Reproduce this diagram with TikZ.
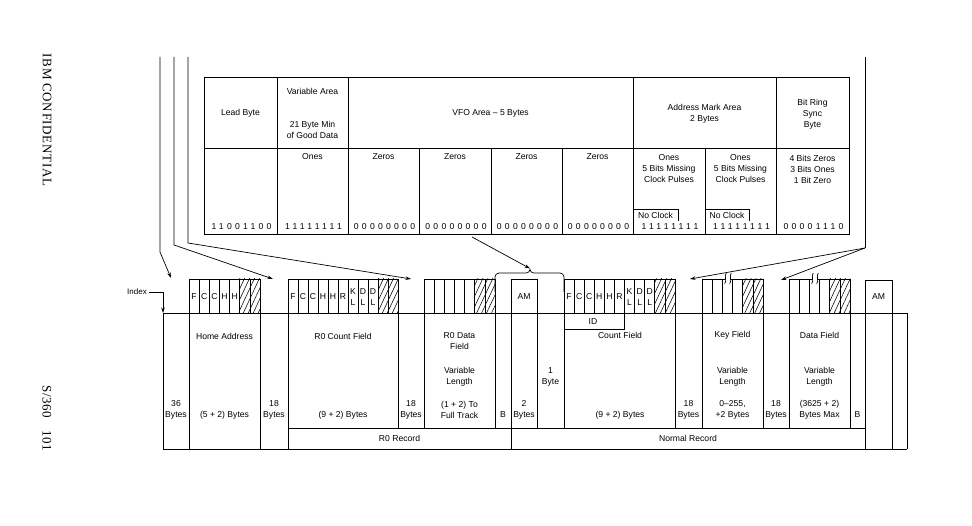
\documentclass[tikz,border=0pt]{standalone}
\usepackage{fontspec}
\setmainfont{Liberation Sans}
\newfontfamily\sidefont[LetterSpace=5]{Liberation Serif}
\newfontfamily\bitfont[LetterSpace=38]{Liberation Sans}
\usetikzlibrary{arrows.meta,patterns.meta}
\begin{document}
\begin{tikzpicture}[x=1pt,y=-1pt,line width=0.95pt,
  lbl/.style={font=\fontsize{8.6}{11}\selectfont,align=center,inner sep=0pt},
  sml/.style={font=\fontsize{8}{9}\selectfont,align=center,inner sep=0pt},
  bits/.style={font=\bitfont\fontsize{8.6}{10}\selectfont,inner sep=0pt},
  side/.style={font=\sidefont\fontsize{13}{14}\selectfont,rotate=-90,inner sep=0pt},
  arr/.style={-{Stealth[length=5.5pt,width=3.5pt]},line width=0.7pt},
  hatch/.style={pattern={Lines[angle=65,distance=4.5pt,line width=0.55pt]}},
  conn/.style={line width=0.7pt}]
\useasboundingbox (0,0) rectangle (972,526);

% ---------- margin texts ----------
\node[side] (conf) at (47,120) {IBM CONFIDENTIAL};
\node[side] (s360) at (47,402) {S/360};
\node[side] (pg) at (47,441) {101};

% ---------- top table ----------
\draw (204,77) rectangle (849,234);
\draw (204,148) -- (849,148);
\foreach \x in {277,348,633,776} \draw (\x,77) -- (\x,234);
\foreach \x in {419,491,562,705} \draw (\x,148) -- (\x,234);

\node[lbl] (lead) at (240.5,113) {Lead Byte};
\node[lbl] (var1) at (312.5,91) {Variable Area};
\node[lbl] (var2) at (312.5,130) {21 Byte Min\\of Good Data};
\node[lbl] (vfo) at (490.5,113) {VFO Area -- 5 Bytes};
\node[lbl] (ama) at (704.5,114) {Address Mark Area\\2 Bytes};
\node[lbl] (ring) at (812.5,114.5) {Bit Ring\\Sync\\Byte};

\node[lbl] (ones1) at (312.5,157) {Ones};
\foreach \c/\n in {383.5/1,455/2,526.5/3,597.5/4} \node[lbl] (zeros\n) at (\c,157) {Zeros};
\node[lbl] (ones2) at (669,169) {Ones\\5 Bits Missing\\Clock Pulses};
\node[lbl] (ones3) at (740.5,169) {Ones\\5 Bits Missing\\Clock Pulses};
\node[lbl] (sync) at (812.5,169) {4 Bits Zeros\\3 Bits Ones\\1 Bit Zero};

\draw[conn] (633,209) -- (678,209) -- (678,221);
\draw[conn] (705,209) -- (749,209) -- (749,221);
\node[lbl] (nc1) at (655.5,215.5) {No Clock};
\node[lbl] (nc2) at (727,215.5) {No Clock};

\foreach \c/\b/\n in {241.5/11001100/a,313.5/11111111/b,384.5/00000000/c,456/00000000/d,527.5/00000000/e,598.5/00000000/f,670/11111111/g,741.5/11111111/h,813.5/00001110/i}
  \node[bits] (bit\n) at (\c,226.5) {\b};

% ---------- connectors from top ----------
\coordinate (la) at (160,57); \coordinate (lab) at (160,252); \coordinate (lae) at (171,278);
\coordinate (lb) at (174,57); \coordinate (lbb) at (174,245); \coordinate (lbe) at (273,279);
\coordinate (lc) at (188,57); \coordinate (lcb) at (188,243); \coordinate (lce) at (411,279);
\coordinate (ra) at (865,57); \coordinate (rab) at (865,248);
\coordinate (rae1) at (690,279); \coordinate (rae2) at (781,280);
\coordinate (ms) at (472,237); \coordinate (me) at (530,268.5);
\draw[arr] (la) -- (lab) -- (lae);
\draw[arr] (lb) -- (lbb) -- (lbe);
\draw[arr] (lc) -- (lcb) -- (lce);
\draw[conn] (ra) -- (rab);
\draw[arr] (rab) -- (rae1);
\draw[arr] (rab) -- (rae2);
\draw[arr] (ms) -- (me);

% ---------- index ----------
\node[sml] (index) at (137,292) {Index};
\coordinate (ixc) at (163,292); \coordinate (ixe) at (163,313);
\draw[arr] (index.east) ++(2,0) -- (ixc) -- (ixe);

% ---------- bottom track ----------
\draw (163,313) -- (907,313);
\draw (163,449) -- (907,449);
\draw (288,428) -- (865,428);
\foreach \x in {163,907} \draw (\x,313) -- (\x,449);
\foreach \x in {189,260,288,511} \draw (\x,279) -- (\x,449);
\foreach \x in {865,892} \draw (\x,280) -- (\x,449);
\foreach \x in {398,424,495,537,564,675,702,763,789,850} \draw (\x,279) -- (\x,428);

% small field boxes (tops)
\draw (189,279) -- (260,279);
\draw (288,279) -- (398,279);
\draw (424,279) -- (495,279);
\draw (511,279) -- (537,279);
\draw (564,279) -- (675,279);
\draw (865,280) -- (892,280);
\draw (702,279) -- (725,279); \draw (731,279) -- (763,279);
\draw (789,279) -- (812,279); \draw (818,279) -- (850,279);

% hatched cells
\path[hatch] (239.3,279) rectangle (260,313);
\path[hatch] (378,279) rectangle (398,313);
\path[hatch] (474.3,279) rectangle (495,313);
\path[hatch] (654.8,279) rectangle (675,313);
\path[hatch] (742.7,279) rectangle (763,313);
\path[hatch] (829.7,279) rectangle (850,313);

% cell dividers
\foreach \i in {1,...,6} \draw[conn] ({189+10.143*\i},279) -- ++(0,34);
\foreach \i in {1,...,10} \draw[conn] ({288+10*\i},279) -- ++(0,34);
\foreach \i in {1,...,6} \draw[conn] ({424+10.143*\i},279) -- ++(0,34);
\foreach \i in {1,...,10} \draw[conn] ({564+10.09*\i},279) -- ++(0,34);
\foreach \i in {1,...,5} \draw[conn] ({702+10.17*\i},279) -- ++(0,34);
\foreach \i in {1,...,5} \draw[conn] ({789+10.17*\i},279) -- ++(0,34);

% wavy breaks
\foreach \x in {725.5,730.5,812.5,817.5}
  \draw[conn] (\x+0.8,273) .. controls (\x-1.8,276) and (\x+1.8,280) .. (\x-0.8,284);

% ID box
\draw[conn] (564,329) -- (624.5,329) -- (624.5,313);

% AM bracket
\draw[conn] (495,292) -- (495,277) .. controls (495,274.8) and (496.8,273) .. (499,273)
  -- (526,273) .. controls (528.5,273) and (529.5,271.5) .. (530,269.5)
  .. controls (530.5,271.5) and (531.5,273) .. (534,273)
  -- (560,273) .. controls (562.2,273) and (564,274.8) .. (564,277) -- (564,292);

% cell letters
\foreach \i/\t in {0/F,1/C,2/C,3/H,4/H} \node[lbl] (hac\i) at ({189+10.143*\i+5.07},297) {\t};
\foreach \i/\t in {0/F,1/C,2/C,3/H,4/H,5/R} \node[lbl] (r0c\i) at ({288+10*\i+5},297) {\t};
\foreach \i/\t in {6/K,7/D,8/D} \node[lbl] (r0k\i) at ({288+10*\i+5},291.5) {\t};
\foreach \i in {6,7,8} \node[lbl] (r0l\i) at ({288+10*\i+5},302.5) {L};
\foreach \i/\t in {0/F,1/C,2/C,3/H,4/H,5/R} \node[lbl] (cc\i) at ({564+10.09*\i+5.05},297) {\t};
\foreach \i/\t in {6/K,7/D,8/D} \node[lbl] (ck\i) at ({564+10.09*\i+5.05},291.5) {\t};
\foreach \i in {6,7,8} \node[lbl] (cl\i) at ({564+10.09*\i+5.05},302.5) {L};
\node[lbl] (am1) at (524,296.5) {AM};
\node[lbl] (am2) at (878.5,296.5) {AM};
\node[lbl] (idl) at (593,321.5) {ID};

% field labels
\node[lbl] (b36) at (176,409.5) {36\\Bytes};
\node[lbl] (home) at (224.5,336) {Home Address};
\node[lbl] (ha52) at (224.5,415) {(5 + 2) Bytes};
\node[lbl] (b18a) at (274,409.5) {18\\Bytes};
\node[lbl] (r0cnt) at (343,336) {R0 Count Field};
\node[lbl] (r092) at (343,415) {(9 + 2) Bytes};
\node[lbl] (b18b) at (411,409.5) {18\\Bytes};
\node[lbl] (r0dat) at (459.5,341.5) {R0 Data\\Field};
\node[lbl] (r0var) at (459.5,376.5) {Variable\\Length};
\node[lbl] (r0len) at (459.5,409.5) {(1 + 2) To\\Full Track};
\node[lbl] (bb1) at (503,415) {B};
\node[lbl] (by2) at (524,409.5) {2\\Bytes};
\node[lbl] (by1) at (550.5,376.5) {1\\Byte};
\node[lbl] (cntf) at (620,335.5) {Count Field};
\node[lbl] (c92) at (620,415) {(9 + 2) Bytes};
\node[lbl] (b18c) at (688.5,409.5) {18\\Bytes};
\node[lbl] (keyf) at (732.5,335.5) {Key Field};
\node[lbl] (keyv) at (732.5,376.5) {Variable\\Length};
\node[lbl] (keyl) at (732.5,409.5) {0--255,\\+2 Bytes};
\node[lbl] (b18d) at (776,409.5) {18\\Bytes};
\node[lbl] (datf) at (819.5,335.5) {Data Field};
\node[lbl] (datv) at (819.5,376.5) {Variable\\Length};
\node[lbl] (datl) at (819.5,409.5) {(3625 + 2)\\Bytes Max};
\node[lbl] (bb2) at (857.5,415) {B};
\node[lbl] (r0rec) at (399.5,438.5) {R0 Record};
\node[lbl] (normrec) at (688,438.5) {Normal Record};
\end{tikzpicture}
\end{document}
